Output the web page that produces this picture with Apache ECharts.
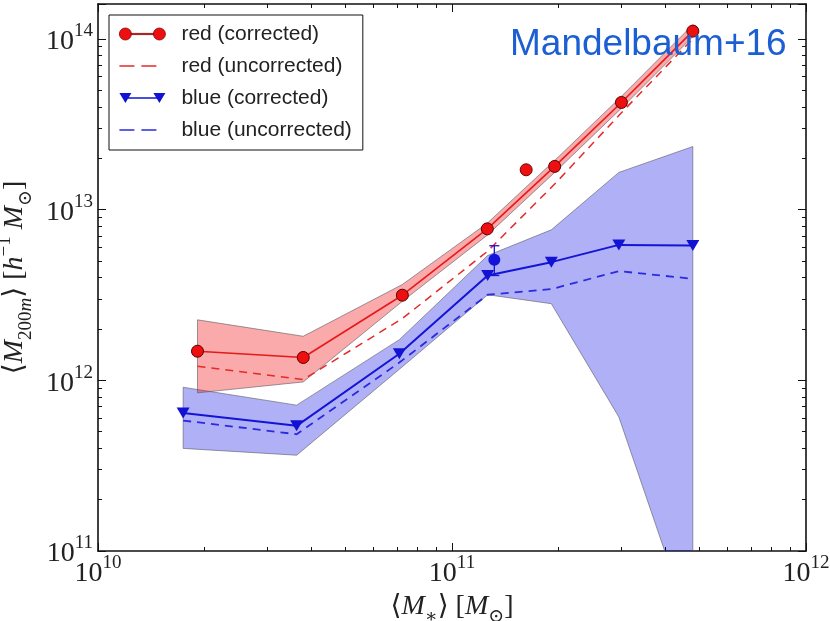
<!DOCTYPE html>
<html>
<head>
<meta charset="utf-8">
<script src="https://cdn.jsdelivr.net/npm/echarts@6/dist/echarts.min.js"></script>
<style>
  html, body { margin: 0; padding: 0; background: #fff; }
  #chart { width: 830px; height: 621px; }
</style>
</head>
<body>
<div id="chart"></div>
<script>
// stellar mass bins [M_sun]
const xRed = [1.91e10, 3.80e10, 7.24e10, 1.258e11, 1.95e11, 3.01e11, 4.79e11];
const xBlue = [1.74e10, 3.64e10, 7.10e10, 1.261e11, 1.908e11, 2.96e11, 4.79e11];

// halo mass [h^-1 M_sun]
const redCorr = [1.48e12, 1.36e12, 3.15e12, 7.71e12, 1.79e13, 4.24e13, 1.11e14];
const redUnc = [1.21e12, 1.01e12, 2.30e12, 5.68e12, 1.41e13, 3.69e13, 1.00e14];
const redLo = [8.44e11, 9.78e11, 2.90e12, 7.08e12, 1.65e13, 3.92e13, 1.03e14];
const redHi = [2.26e12, 1.81e12, 3.64e12, 8.32e12, 1.94e13, 4.60e13, 1.21e14];

const blueCorr = [6.44e11, 5.41e11, 1.43e12, 4.11e12, 4.92e12, 6.21e12, 6.15e12];
const blueUnc = [5.81e11, 4.83e11, 1.27e12, 3.17e12, 3.42e12, 4.36e12, 3.93e12];
const blueLo = [3.99e11, 3.64e11, 1.16e12, 3.17e12, 2.81e12, 6.10e11, 3.3e10];
const blueHi = [9.10e11, 7.15e11, 1.73e12, 5.38e12, 7.61e12, 1.65e13, 2.34e13];

// Mandelbaum+16 points
const mandelRed = [[1.62e11, 1.71e13]];
const mandelBlue = [[1.317e11, 5.08e12]];
const mandelBlueErr = [[1.317e11, 4.11e12, 6.14e12]];

const SERIF = "'Liberation Serif', 'DejaVu Serif', serif";
const SANS = "'Liberation Sans', Arial, sans-serif";

const pair = (xs, ys) => xs.map((x, i) => [x, ys[i]]);

function powLabel(v) {
  const l = Math.log10(v);
  const e = Math.round(l);
  if (Math.abs(l - e) > 1e-6) return '';
  return '{b|10}{s|' + e + '}';
}

const tickRich = {
  b: { fontFamily: SERIF, fontSize: 28, lineHeight: 34, verticalAlign: 'bottom', color: '#222' },
  s: { fontFamily: SERIF, fontSize: 19, lineHeight: 17, verticalAlign: 'top', color: '#222' }
};

const nameRich = {
  r: { fontFamily: SERIF, fontSize: 28, lineHeight: 40, color: '#222' },
  i: { fontFamily: SERIF, fontSize: 28, lineHeight: 40, fontStyle: 'italic', color: '#222' },
  sub: { fontFamily: SERIF, fontSize: 19, lineHeight: 19, verticalAlign: 'bottom', color: '#222' },
  subi: { fontFamily: SERIF, fontSize: 19, lineHeight: 19, verticalAlign: 'bottom', fontStyle: 'italic', color: '#222' },
  sup: { fontFamily: SERIF, fontSize: 19, lineHeight: 19, verticalAlign: 'top', color: '#222' }
};

function band(xs, lo, hi, fill) {
  return function (params, api) {
    const pts = [];
    for (let i = 0; i < xs.length; i++) pts.push(api.coord([xs[i], hi[i]]));
    for (let i = xs.length - 1; i >= 0; i--) pts.push(api.coord([xs[i], lo[i]]));
    return {
      type: 'polygon',
      shape: { points: pts },
      style: { fill: fill, stroke: 'rgba(90,90,100,0.6)', lineWidth: 1 }
    };
  };
}

function axisBase(pos, showLabel) {
  return {
    type: 'log',
    logBase: 10,
    position: pos,
    axisLine: { show: true, onZero: false, lineStyle: { color: '#111', width: 1.6 } },
    axisTick: { show: true, inside: true, length: 8, lineStyle: { color: '#111', width: 1 } },
    minorTick: { show: true, splitNumber: 9, length: 4, lineStyle: { color: '#111', width: 1 } },
    splitLine: { show: false },
    minorSplitLine: { show: false },
    axisLabel: { show: showLabel, formatter: powLabel, rich: tickRich }
  };
}

const ICON_CIRC = 'path://M0,6a6,6 0 1,0 12,0a6,6 0 1,0 -12,0ZM12,5.4L34,5.4L34,6.6L12,6.6ZM34,6a6,6 0 1,0 12,0a6,6 0 1,0 -12,0Z';
const ICON_TRI = 'path://M0,1L12,1L6,11ZM6,5.2L40,5.2L40,6.8L6,6.8ZM34,1L46,1L40,11ZM0,0M46,12';
const ICON_DASH = 'path://M0,5.2L15,5.2L15,6.8L0,6.8ZM22,5.2L37,5.2L37,6.8L22,6.8ZM0,0M46,12';

const chart = echarts.init(document.getElementById('chart'));

const option = {
  animation: false,
  backgroundColor: '#fff',
  title: {
    text: 'Mandelbaum+16',
    left: 505,
    top: 21,
    textStyle: { fontFamily: SANS, fontSize: 37, fontWeight: 'normal', color: '#1b5fd3' }
  },
  legend: {
    orient: 'vertical',
    left: 109,
    top: 15,
    itemWidth: 46,
    itemHeight: 12,
    itemGap: 10,
    padding: [8, 11, 9, 10],
    selectedMode: false,
    backgroundColor: '#fff',
    borderColor: '#111',
    borderWidth: 1,
    textStyle: { fontFamily: SANS, fontSize: 21, lineHeight: 22, color: '#222', padding: [0, 0, 0, 11] },
    data: [
      { name: 'red (corrected)', icon: ICON_CIRC, itemStyle: { borderColor: '#8a0000', borderWidth: 0.8 } },
      { name: 'red (uncorrected)', icon: ICON_DASH },
      { name: 'blue (corrected)', icon: ICON_TRI },
      { name: 'blue (uncorrected)', icon: ICON_DASH }
    ]
  },
  grid: { left: 98, right: 24, top: 4, bottom: 70, containLabel: false, outerBoundsMode: 'none' },
  xAxis: [
    Object.assign(axisBase('bottom', true), {
      min: 1e10, max: 1e12,
      axisLabel: { show: true, formatter: powLabel, rich: tickRich, margin: 3 },
      name: '{r|⟨}{i|M}{sub|∗}{r|⟩ [}{i|M}{sub|⊙}{r|]}',
      nameLocation: 'middle',
      nameGap: 28,
      nameTextStyle: { rich: nameRich }
    }),
    Object.assign(axisBase('top', false), { min: 1e10, max: 1e12 })
  ],
  yAxis: [
    Object.assign(axisBase('left', true), {
      min: 1e11, max: 1.6e14,
      axisLabel: { show: true, formatter: powLabel, rich: tickRich, margin: 5 },
      name: '{r|⟨}{i|M}{sub|200}{subi|m}{r|⟩ [}{i|h}{sup|−1}{r| }{i|M}{sub|⊙}{r|]}',
      nameLocation: 'middle',
      nameGap: 52,
      nameTextStyle: { rich: nameRich }
    }),
    Object.assign(axisBase('right', false), { min: 1e11, max: 1.6e14 })
  ],
  series: [
    {
      type: 'custom', name: 'blue band', silent: true, clip: true, z: 1,
      renderItem: band(xBlue, blueLo, blueHi, 'rgba(0,0,230,0.31)'),
      data: [[xBlue[0], blueHi[0]]]
    },
    {
      type: 'custom', name: 'red band', silent: true, clip: true, z: 1,
      renderItem: band(xRed, redLo, redHi, 'rgba(240,20,20,0.36)'),
      data: [[xRed[0], redHi[0]]]
    },
    {
      type: 'line', name: 'red (uncorrected)', data: pair(xRed, redUnc),
      symbol: 'none', z: 3,
      itemStyle: { color: '#e42a2a' },
      lineStyle: { color: '#e42a2a', width: 1.5, type: [8, 6] }
    },
    {
      type: 'line', name: 'blue (uncorrected)', data: pair(xBlue, blueUnc),
      symbol: 'none', z: 3,
      itemStyle: { color: '#2a2ae0' },
      lineStyle: { color: '#2a2ae0', width: 1.8, type: [8, 6] }
    },
    {
      type: 'line', name: 'red (corrected)', data: pair(xRed, redCorr),
      symbol: 'circle', symbolSize: 12, z: 4,
      itemStyle: { color: '#ee1010', borderColor: '#5a0000', borderWidth: 1 },
      lineStyle: { color: '#e41a1a', width: 1.6 }
    },
    {
      type: 'line', name: 'blue (corrected)', data: pair(xBlue, blueCorr),
      symbol: 'triangle', symbolRotate: 180, symbolSize: [13, 11], z: 4,
      itemStyle: { color: '#1212d2' },
      lineStyle: { color: '#1414d6', width: 2 }
    },
    {
      type: 'custom', name: 'M16 blue err', silent: true, z: 5,
      renderItem: function (params, api) {
        const top = api.coord([api.value(0), api.value(2)]);
        const bot = api.coord([api.value(0), api.value(1)]);
        const st = { stroke: '#1414d6', lineWidth: 1.3 };
        return {
          type: 'group',
          children: [
            { type: 'line', shape: { x1: top[0], y1: top[1], x2: bot[0], y2: bot[1] }, style: st },
            { type: 'line', shape: { x1: top[0] - 5, y1: top[1], x2: top[0] + 5, y2: top[1] }, style: st },
            { type: 'line', shape: { x1: bot[0] - 5, y1: bot[1], x2: bot[0] + 5, y2: bot[1] }, style: st }
          ]
        };
      },
      data: mandelBlueErr
    },
    {
      type: 'scatter', name: 'M16 blue', data: mandelBlue, z: 6,
      symbol: 'circle', symbolSize: 12,
      itemStyle: { color: '#1414d8', opacity: 1 }
    },
    {
      type: 'scatter', name: 'M16 red', data: mandelRed, z: 6,
      symbol: 'circle', symbolSize: 12,
      itemStyle: { color: '#ee1010', borderColor: '#7a0000', borderWidth: 1, opacity: 1 }
    }
  ]
};

chart.setOption(option);
</script>
</body>
</html>
